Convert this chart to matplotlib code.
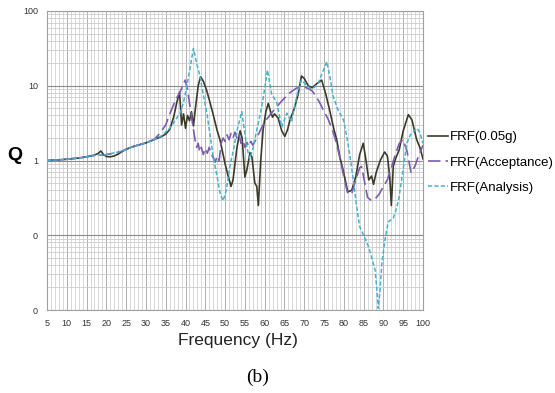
import matplotlib
matplotlib.use('Agg')
import matplotlib.pyplot as plt

plt.rcParams['lines.scale_dashes'] = False
SANS = ['Liberation Sans', 'DejaVu Sans']

# FRF(0.05g) - measured
f_005g = [5, 8, 10, 13, 15, 17, 18, 18.6, 19.3, 20, 21, 22, 23, 24, 25, 27, 30, 32, 34, 35,
          36, 37, 37.8, 38.5, 39, 39.5, 40, 40.5, 41, 41.5, 42, 42.5, 43.2, 43.8, 44.5, 45.3,
          46, 46.9, 48, 48.7, 50, 50.5, 51.5, 52, 53, 53.8, 54.3, 55, 55.5, 56.3, 56.8, 57.5,
          58, 58.4, 59, 59.6, 60.3, 60.9, 61.5, 62, 62.5, 63.4, 64.3, 65.1, 65.8, 66.4, 67.5,
          68.4, 69.3, 70, 71, 72, 73, 74.4, 75.5, 76.5, 77.5, 78.2, 79, 79.8, 81, 82, 83, 84,
          84.9, 85.6, 86.3, 87, 87.5, 88.2, 89.2, 90.3, 91, 91.6, 92, 92.5, 93.2, 94, 95, 96.3,
          97.2, 98.4, 99.2, 100]
q_005g = [1.0, 1.02, 1.04, 1.08, 1.12, 1.18, 1.25, 1.34, 1.2, 1.13, 1.12, 1.15, 1.22, 1.32, 1.42,
          1.55, 1.72, 1.9, 2.1, 2.25, 2.6, 3.8, 6.0, 8.2, 3.0, 4.2, 2.7, 4.0, 3.4, 4.5, 2.9, 5.0,
          10.0, 13.2, 11.5, 8.8, 6.5, 4.3, 2.5, 1.9, 0.9, 0.7, 0.45, 0.55, 1.5, 2.5, 2.0, 0.6,
          0.75, 1.27, 1.1, 0.5, 0.45, 0.25, 1.0, 2.6, 4.5, 5.8, 4.5, 3.8, 4.2, 3.7, 2.5, 2.1,
          2.6, 3.5, 5.0, 7.5, 13.5, 12.5, 10.0, 9.4, 10.5, 11.9, 7.5, 4.5, 2.6, 1.9, 1.1, 0.75,
          0.38, 0.4, 0.6, 1.2, 1.7, 1.0, 0.55, 0.62, 0.48, 0.7, 1.0, 1.3, 1.15, 0.6, 0.25, 0.85,
          1.1, 1.4, 2.5, 4.1, 3.5, 1.9, 1.5, 1.05]

# FRF(Acceptance)
f_acc = [5, 8, 10, 13, 15, 17, 19, 20, 22, 24, 25, 27, 30, 32, 33.5, 35, 36.1, 37.5, 38.6, 39.9,
         40.5, 41.5, 42.4, 42.8, 43.2, 43.6, 44, 44.5, 45, 45.5, 46, 46.5, 47, 47.5, 48, 48.5,
         49, 49.5, 50, 50.5, 51, 51.5, 52, 52.5, 53, 53.5, 54, 54.5, 55, 55.5, 56, 56.5, 57,
         58, 59, 60, 62, 64, 66, 68, 70, 71, 72, 73, 74, 75, 76, 77, 78, 79, 80, 81, 82, 83,
         84, 84.5, 85, 86, 87, 88, 89, 90, 91, 92, 93, 94, 95, 96, 97, 98, 99, 100]
q_acc = [1.0, 1.02, 1.04, 1.08, 1.12, 1.17, 1.18, 1.2, 1.25, 1.33, 1.4, 1.55, 1.72, 1.9, 2.3,
         3.0, 4.3, 6.5, 8.2, 11.9, 9.0, 3.9, 1.9, 1.5, 1.7, 1.3, 1.5, 1.2, 1.45, 1.25, 1.5,
         1.2, 1.1, 0.95, 1.15, 1.0, 1.7, 2.0, 1.8, 2.2, 1.9, 2.3, 2.0, 2.4, 2.0, 2.3, 1.7,
         1.9, 1.5, 1.75, 1.55, 1.8, 1.6, 2.0, 2.6, 3.3, 4.5, 6.0, 7.8, 9.3, 9.6, 9.2, 8.5,
         7.2, 5.8, 4.5, 3.6, 2.7, 1.8, 1.1, 0.6, 0.36, 0.36, 0.55, 0.8, 0.83, 0.6, 0.32,
         0.29, 0.31, 0.36, 0.45, 0.55, 0.8, 1.2, 1.7, 1.9, 1.3, 0.68, 0.85, 1.2, 1.6]

# FRF(Analysis)
f_ana = [5, 8, 10, 13, 15, 17, 19, 20, 22, 23, 24, 25, 27, 30, 32, 34, 36, 37, 38.6, 39.5,
         40.3, 41.2, 42, 42.8, 43.7, 44.5, 45.4, 46.2, 47, 48, 48.8, 49.5, 50.3, 51.2, 52, 53,
         54.2, 55.5, 56.2, 57, 58, 59, 59.7, 60.7, 61.8, 63, 64.3, 65.6, 66.8, 67.6, 68.5,
         69.3, 70.3, 71.5, 72.5, 73.5, 74.6, 75.7, 76.5, 77.3, 78.5, 79.9, 80.8, 81.6, 82.4,
         83.2, 84, 85, 86.2, 87.3, 87.9, 88.3, 88.7, 89.2, 89.6, 90.4, 91.2, 92.5, 93.2, 93.8,
         94.6, 95.3, 95.9, 96.8, 98.4, 99.2, 99.7, 100]
q_ana = [1.0, 1.02, 1.04, 1.08, 1.12, 1.17, 1.18, 1.2, 1.27, 1.3, 1.35, 1.4, 1.55, 1.72, 1.9,
         2.15, 2.7, 3.2, 4.3, 6.0, 9.7, 18, 31.6, 20, 13.2, 7.5, 4.3, 2.2, 1.12, 0.6, 0.35,
         0.29, 0.4, 0.83, 1.3, 2.5, 4.5, 1.5, 1.05, 1.4, 2.56, 4.5, 7.2, 16.2, 7.5, 6.2, 2.8,
         4.3, 3.3, 5.5, 8.8, 11.9, 10.5, 9.2, 9.5, 10.8, 15, 21, 13, 7.2, 4.8, 3.5, 2.0, 1.1,
         0.55, 0.25, 0.13, 0.1, 0.071, 0.045, 0.034, 0.02, 0.0105, 0.02, 0.042, 0.087, 0.15,
         0.17, 0.22, 0.29, 0.55, 1.0, 1.7, 2.2, 2.7, 2.4, 1.9, 1.7]

fig = plt.figure(figsize=(5.55, 3.93), dpi=100)
ax = fig.add_axes([47/555, 1-310/393, (423-47)/555, (310-11)/393])

l1, = ax.plot(f_005g, q_005g, color='#3b3a2a', lw=1.2, label='FRF(0.05g)')
l2, = ax.plot(f_acc, q_acc, color='#7a5cb0', lw=1.2, dashes=(9, 3.6), label='FRF(Acceptance)')
l3, = ax.plot(f_ana, q_ana, color='#45b2cc', lw=1.1, dashes=(3, 1.6), label='FRF(Analysis)')

ax.set_yscale('log')
ax.set_xlim(5, 100)
ax.set_ylim(0.01, 100)
ax.set_xticks(range(5, 101, 5))
ax.set_xticks(range(5, 101), minor=True)
ax.set_yticks([100, 10, 1, 0.1, 0.01], labels=['100', '10', '1', '0', '0'])
ax.set_yticks([k * 10.0**e for e in range(-2, 2) for k in range(2, 10)], minor=True)
ax.yaxis.set_minor_formatter(plt.NullFormatter())
ax.grid(which='major', axis='y', color='#8c8c8c', lw=0.8)
ax.grid(which='minor', axis='y', color='#cccccc', lw=0.6)
ax.grid(which='major', axis='x', color='#b0b0b0', lw=0.7)
ax.grid(which='minor', axis='x', color='#d2d2d2', lw=0.6)
ax.set_axisbelow(True)
ax.tick_params(which='both', length=0)
ax.tick_params(axis='y', pad=6.5)
ax.tick_params(axis='x', pad=6.5)
for lab in ax.get_xticklabels() + ax.get_yticklabels():
    lab.set_family(SANS)
    lab.set_fontsize(6.5)
    lab.set_color('#333333')
for s in ax.spines.values():
    s.set_color('#a0a0a0')
    s.set_linewidth(0.8)

fig.text(15/555, 1-156/393, 'Q', fontsize=14, fontweight='bold', family=SANS,
         ha='center', va='center')
fig.text(238/555, 1-341/393, 'Frequency (Hz)', fontsize=12.5, family=SANS, color='#222222',
         ha='center', va='center')
fig.text(258/555, 1-377/393, '(b)', fontsize=14, family='Liberation Serif',
         ha='center', va='center')

fig.legend(handles=[l1, l2, l3], loc='upper left', bbox_to_anchor=(428/555, 1-131/393),
           frameon=False, borderpad=0, borderaxespad=0, handlelength=1.5, handletextpad=0.15,
           labelspacing=1.0, prop={'family': SANS, 'size': 9.5})

fig.savefig('out.png', dpi=100)
